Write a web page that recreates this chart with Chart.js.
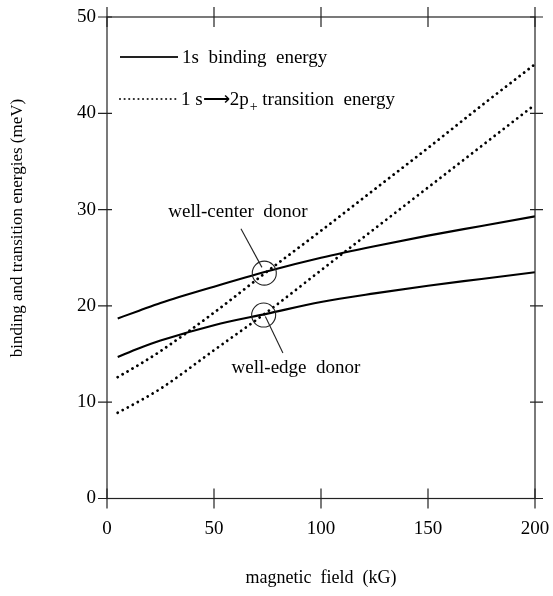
<!DOCTYPE html>
<html>
<head>
<meta charset="utf-8">
<script src="https://cdn.jsdelivr.net/npm/chart.js@4.4.0/dist/chart.umd.min.js"></script>
<style>
  html, body { margin: 0; padding: 0; background: #fff; }
  canvas { display: block; }
</style>
</head>
<body>
<canvas id="chart" width="553" height="596"></canvas>
<script>
// Magnetic field (kG) at which the energies are sampled
const field = [5, 15, 25, 50, 75, 100, 125, 150, 175, 200];

// 1s binding energies (meV)
const centerBinding = [18.7, 19.5, 20.3, 22.0, 23.6, 25.0, 26.2, 27.3, 28.3, 29.3];
const edgeBinding   = [14.7, 15.6, 16.4, 18.0, 19.2, 20.4, 21.3, 22.1, 22.8, 23.5];

// 1s -> 2p+ transition energies (meV)
const centerTransition = [12.6, 13.9, 15.3, 19.3, 23.6, 27.8, 32.1, 36.4, 40.8, 45.1];
const edgeTransition   = [8.9, 10.1, 11.4, 15.4, 19.4, 23.7, 28.0, 32.3, 36.6, 40.9];

// Axis ticks
const xTicks = [0, 50, 100, 150, 200];
const yTicks = [0, 10, 20, 30, 40, 50];

// Donor labels: [field, energy] of circle, label anchor, leader line ends
const donorNames   = ['well-center  donor', 'well-edge  donor'];
const donorCircles = [[73.5, 23.4], [73.2, 19.05]];
const donorLabels  = [[61.2, 29.8], [88.3, 13.6]];
const donorLeaders = [[[62.6, 28.0], [72.4, 24.0]], [[74.0, 18.9], [82.2, 15.1]]];

const serif = "'Liberation Serif', 'Times New Roman', serif";

function pts(ys) { return field.map((x, i) => ({ x: x, y: ys[i] })); }

const solid = { borderColor: '#000', borderWidth: 2.1, pointRadius: 0, fill: false,
                cubicInterpolationMode: 'monotone' };
const dotted = { borderColor: '#000', borderWidth: 2.8, pointRadius: 0, fill: false,
                 borderDash: [0.01, 5.7], borderCapStyle: 'round',
                 cubicInterpolationMode: 'monotone' };

// Box frame with ticks crossing every side, titles, legend and donor notes
const framePlugin = {
  id: 'frame',
  afterDatasetsDraw(chart) {
    const { ctx, chartArea: a, scales: { x, y } } = chart;
    ctx.save();
    ctx.strokeStyle = '#222';
    ctx.lineWidth = 1.2;
    ctx.strokeRect(a.left, a.top, a.right - a.left, a.bottom - a.top);
    ctx.beginPath();
    xTicks.forEach(v => {
      const px = x.getPixelForValue(v);
      ctx.moveTo(px, a.bottom - 10); ctx.lineTo(px, a.bottom + 10);
      ctx.moveTo(px, a.top - 10); ctx.lineTo(px, a.top + 10);
    });
    yTicks.forEach(v => {
      const py = y.getPixelForValue(v);
      ctx.moveTo(a.left - 9, py); ctx.lineTo(a.left + 5, py);
      ctx.moveTo(a.right - 5, py); ctx.lineTo(a.right + 8, py);
    });
    ctx.stroke();

    // axis titles
    ctx.fillStyle = '#000';
    ctx.font = '18px ' + serif;
    ctx.textAlign = 'center';
    ctx.textBaseline = 'middle';
    ctx.fillText('magnetic  field  (kG)', (a.left + a.right) / 2, 578);
    ctx.save();
    ctx.translate(18, 228);
    ctx.rotate(-Math.PI / 2);
    ctx.font = '17px ' + serif;
    ctx.fillText('binding and transition energies (meV)', 0, 0);
    ctx.restore();

    // legend
    const lx0 = 120, lx1 = 178;
    ctx.lineWidth = 2.1;
    ctx.beginPath(); ctx.moveTo(lx0, 57); ctx.lineTo(lx1, 57); ctx.stroke();
    ctx.lineWidth = 2.2; ctx.lineCap = 'round'; ctx.setLineDash([0.01, 4.6]);
    ctx.beginPath(); ctx.moveTo(lx0, 99); ctx.lineTo(lx1, 99); ctx.stroke();
    ctx.setLineDash([]); ctx.lineCap = 'butt';
    ctx.textAlign = 'left';
    ctx.textBaseline = 'alphabetic';
    ctx.font = '19px ' + serif;
    ctx.fillText('1s  binding  energy', 182, 63);
    let tx = 181;
    const head = '1 s\u27F62p';
    ctx.fillText(head, tx, 105);
    tx += ctx.measureText(head).width + 1;
    ctx.font = '14px ' + serif;
    ctx.fillText('+', tx, 111);
    tx += ctx.measureText('+').width;
    ctx.font = '19px ' + serif;
    ctx.fillText(' transition  energy', tx, 105);

    // donor annotations
    ctx.lineWidth = 1.1;
    donorCircles.forEach(([cx, cy]) => {
      ctx.beginPath();
      ctx.arc(x.getPixelForValue(cx), y.getPixelForValue(cy), 12, 0, Math.PI * 2);
      ctx.stroke();
    });
    donorLeaders.forEach(([p, q]) => {
      ctx.beginPath();
      ctx.moveTo(x.getPixelForValue(p[0]), y.getPixelForValue(p[1]));
      ctx.lineTo(x.getPixelForValue(q[0]), y.getPixelForValue(q[1]));
      ctx.stroke();
    });
    ctx.font = '19px ' + serif;
    ctx.textAlign = 'center';
    ctx.textBaseline = 'middle';
    donorLabels.forEach(([lx, ly], i) => {
      ctx.fillText(donorNames[i], x.getPixelForValue(lx), y.getPixelForValue(ly));
    });
    ctx.restore();
  }
};

new Chart(document.getElementById('chart'), {
  type: 'line',
  data: {
    datasets: [
      Object.assign({ label: 'well-center 1s binding', data: pts(centerBinding) }, solid),
      Object.assign({ label: 'well-edge 1s binding', data: pts(edgeBinding) }, solid),
      Object.assign({ label: 'well-center 1s-2p+ transition', data: pts(centerTransition) }, dotted),
      Object.assign({ label: 'well-edge 1s-2p+ transition', data: pts(edgeTransition) }, dotted)
    ]
  },
  options: {
    responsive: false,
    animation: false,
    devicePixelRatio: 1,
    layout: { padding: { top: 17, right: 18, left: 0, bottom: 0 } },
    plugins: { legend: { display: false }, tooltip: { enabled: false } },
    scales: {
      x: {
        type: 'linear', min: 0, max: 200,
        afterBuildTicks: s => { s.ticks = xTicks.map(v => ({ value: v })); },
        afterFit: s => { s.height = 97.5; s.paddingLeft = 0; s.paddingRight = 0; },
        grid: { display: false, drawTicks: false },
        border: { display: false },
        ticks: { color: '#000', padding: 19, maxRotation: 0,
                 font: { family: serif, size: 19 } }
      },
      y: {
        type: 'linear', min: 0, max: 50,
        afterBuildTicks: s => { s.ticks = yTicks.map(v => ({ value: v })); },
        afterFit: s => { s.width = 107; s.paddingTop = 0; s.paddingBottom = 0; },
        grid: { display: false, drawTicks: false },
        border: { display: false },
        ticks: { color: '#000', padding: 11,
                 font: { family: serif, size: 19 } }
      }
    }
  },
  plugins: [framePlugin]
});
</script>
</body>
</html>
